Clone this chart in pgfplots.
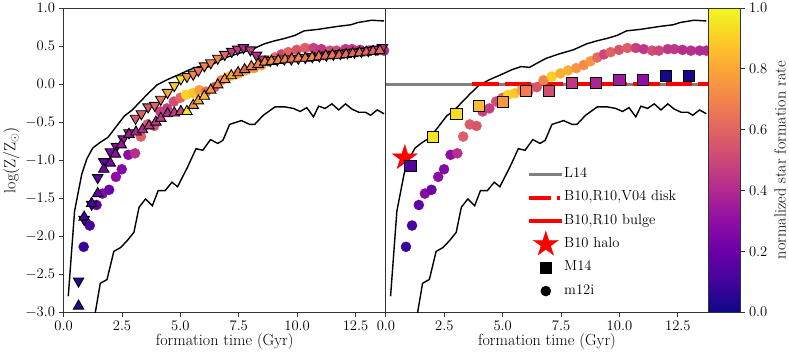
\RequirePackage{fix-cm}
\documentclass[border=0pt]{standalone}
\usepackage{fontspec}
\usepackage{pgfplots}
\usepackage{pgfplotstable}
\pgfplotsset{compat=1.18}

% matplotlib "plasma"
\pgfplotsset{
  colormap={plasma}{rgb255=(13,8,135) rgb255=(65,4,157) rgb255=(106,0,168)
    rgb255=(143,13,164) rgb255=(177,42,144) rgb255=(204,71,120) rgb255=(225,100,98)
    rgb255=(242,132,75) rgb255=(252,166,54) rgb255=(252,206,37) rgb255=(240,249,33)},
}

% filled five-pointed star
\pgfdeclareplotmark{fstar}{%
  \pgfpathmoveto{\pgfpointpolar{90}{\pgfplotmarksize}}%
  \pgfpathlineto{\pgfpointpolar{126}{0.382\pgfplotmarksize}}%
  \pgfpathlineto{\pgfpointpolar{162}{\pgfplotmarksize}}%
  \pgfpathlineto{\pgfpointpolar{198}{0.382\pgfplotmarksize}}%
  \pgfpathlineto{\pgfpointpolar{234}{\pgfplotmarksize}}%
  \pgfpathlineto{\pgfpointpolar{270}{0.382\pgfplotmarksize}}%
  \pgfpathlineto{\pgfpointpolar{306}{\pgfplotmarksize}}%
  \pgfpathlineto{\pgfpointpolar{342}{0.382\pgfplotmarksize}}%
  \pgfpathlineto{\pgfpointpolar{18}{\pgfplotmarksize}}%
  \pgfpathlineto{\pgfpointpolar{54}{0.382\pgfplotmarksize}}%
  \pgfpathclose
  \pgfusepathqfillstroke
}

% envelope lines
\pgfplotstableread{
t z
0.20 -2.79
0.47 -1.67
0.78 -1.18
1.00 -0.98
1.25 -0.84
1.55 -0.77
1.90 -0.70
2.20 -0.58
2.60 -0.42
2.94 -0.34
3.25 -0.24
3.60 -0.13
4.00 -0.01
4.45 0.06
4.90 0.12
5.40 0.19
5.79 0.23
6.15 0.22
6.50 0.28
6.87 0.34
7.45 0.40
8.02 0.45
8.60 0.53
9.05 0.57
9.46 0.60
9.90 0.64
10.30 0.70
10.90 0.72
11.76 0.76
12.30 0.78
12.60 0.81
13.20 0.84
13.72 0.83
}\tabupper

\pgfplotstableread{
t z
1.28 -3.15
1.36 -3.00
1.57 -2.62
1.86 -2.57
2.15 -2.20
2.44 -2.15
2.72 -2.06
3.01 -1.95
3.23 -1.62
3.51 -1.51
3.80 -1.60
4.05 -1.40
4.35 -1.40
4.64 -1.29
4.88 -1.35
5.31 -1.09
5.67 -0.85
5.96 -0.87
6.29 -0.73
6.60 -0.78
6.82 -0.74
7.11 -0.53
7.61 -0.48
7.97 -0.53
8.18 -0.53
8.55 -0.41
9.05 -0.30
9.48 -0.30
9.84 -0.32
10.13 -0.36
10.41 -0.31
10.70 -0.43
10.92 -0.29
11.20 -0.32
11.49 -0.26
11.78 -0.34
12.07 -0.26
12.35 -0.33
12.64 -0.37
12.93 -0.37
13.14 -0.41
13.43 -0.34
13.72 -0.39
}\tablower

% m12i
\pgfplotstableread{
t z c
0.86 -2.14 0.08
1.12 -1.86 0.12
1.41 -1.59 0.18
1.67 -1.44 0.28
1.95 -1.39 0.20
2.24 -1.22 0.30
2.49 -1.12 0.27
2.77 -0.93 0.30
3.06 -0.91 0.42
3.31 -0.69 0.58
3.59 -0.53 0.57
3.88 -0.55 0.55
4.14 -0.36 0.48
4.43 -0.32 0.47
4.72 -0.23 0.52
5.00 -0.18 0.60
5.24 -0.14 0.92
5.53 -0.12 0.88
5.81 -0.08 0.78
6.10 -0.10 0.62
6.46 -0.04 0.55
6.75 0.05 0.70
7.10 0.10 0.90
7.47 0.14 0.82
7.80 0.18 0.82
8.15 0.21 0.75
8.47 0.25 0.72
8.76 0.30 0.75
9.05 0.35 0.62
9.33 0.39 0.50
9.62 0.42 0.60
9.98 0.45 0.55
10.34 0.475 0.58
10.70 0.475 0.48
11.04 0.46 0.45
11.40 0.44 0.52
11.69 0.44 0.50
12.07 0.46 0.45
12.35 0.46 0.45
12.70 0.45 0.42
13.06 0.44 0.42
13.43 0.44 0.40
13.72 0.44 0.40
}\tabmtwelve

% downward triangles
\pgfplotstableread{
t z c
0.64 -2.59 0.05
0.88 -1.78 0.12
1.20 -1.58 0.15
1.46 -1.23 0.18
1.72 -1.02 0.20
2.00 -0.89 0.25
2.26 -0.82 0.30
2.55 -0.72 0.35
2.80 -0.64 0.40
3.08 -0.45 0.55
3.33 -0.39 0.58
3.62 -0.30 0.55
3.90 -0.28 0.60
4.16 -0.20 0.65
4.45 -0.11 0.80
4.74 -0.02 0.90
5.02 0.07 0.95
5.28 0.10 0.75
5.55 0.13 0.70
5.77 0.18 0.65
6.03 0.24 0.70
6.30 0.28 0.68
6.60 0.34 0.70
6.90 0.39 0.60
7.20 0.43 0.45
7.45 0.46 0.45
7.70 0.48 0.40
8.00 0.45 0.45
8.26 0.38 0.40
8.55 0.33 0.45
8.85 0.31 0.50
9.15 0.32 0.55
9.45 0.33 0.60
9.75 0.33 0.55
10.05 0.34 0.50
10.35 0.35 0.50
10.65 0.36 0.45
10.95 0.37 0.55
11.25 0.38 0.50
11.55 0.39 0.45
11.85 0.40 0.50
12.15 0.41 0.45
12.45 0.42 0.45
12.75 0.43 0.42
13.05 0.44 0.42
13.35 0.46 0.40
13.65 0.48 0.42
}\tabdown

% upward triangles
\pgfplotstableread{
t z c
0.64 -2.92 0.05
0.88 -1.75 0.10
1.20 -1.57 0.12
1.46 -1.44 0.20
1.72 -1.12 0.22
2.00 -1.04 0.25
2.22 -0.92 0.30
2.47 -0.80 0.33
2.80 -0.66 0.35
3.10 -0.63 0.38
3.38 -0.60 0.40
3.66 -0.55 0.45
3.95 -0.50 0.45
4.16 -0.45 0.45
4.45 -0.39 0.40
4.74 -0.38 0.45
5.02 -0.36 0.50
5.28 -0.36 0.95
5.55 -0.28 0.75
5.77 -0.22 0.80
6.03 -0.16 0.85
6.30 -0.08 0.75
6.60 -0.01 0.70
6.90 0.06 0.75
7.18 0.11 0.80
7.47 0.15 0.65
7.75 0.19 0.60
8.04 0.23 0.70
8.33 0.26 0.70
8.62 0.29 0.70
8.90 0.30 0.72
9.19 0.31 0.70
9.48 0.32 0.70
9.77 0.33 0.65
10.06 0.34 0.70
10.35 0.34 0.65
10.64 0.35 0.70
10.93 0.36 0.65
11.22 0.37 0.62
11.51 0.38 0.65
11.80 0.38 0.60
12.09 0.39 0.62
12.38 0.40 0.60
12.67 0.41 0.62
12.96 0.42 0.60
13.25 0.43 0.60
13.54 0.44 0.60
}\tabup

% M14
\pgfplotstableread{
t z c
1.05 -1.08 0.15
2.01 -0.69 0.95
3.02 -0.39 0.93
3.99 -0.29 0.85
5.00 -0.24 0.75
6.00 -0.09 0.68
7.00 -0.09 0.52
7.98 0.01 0.45
9.00 0.01 0.38
10.00 0.06 0.35
11.00 0.06 0.30
12.00 0.11 0.02
12.98 0.11 0.02
13.98 0.11 0.05
}\tabmfourteen

\newcommand\tickfont{\fontsize{14.5}{17}\selectfont}
\newcommand\labfont{\fontsize{16}{19}\selectfont}

\pgfplotsset{
  panel/.style={
    scale only axis, width=320pt, height=302pt,
    xmin=0, xmax=13.8, ymin=-3, ymax=1,
    xtick={0,2.5,5,7.5,10,12.5},
    xticklabel style={/pgf/number format/.cd, fixed, fixed zerofill, precision=1},
    yticklabel style={/pgf/number format/.cd, fixed, fixed zerofill, precision=1},
    tick label style={font=\tickfont},
    tick align=outside, xtick pos=bottom, ytick pos=left,
    major tick length=5pt,
    every tick/.style={black!80, line width=0.8pt},
    axis line style={black!80, line width=0.8pt},
    xlabel={\labfont formation time (Gyr)},
    xlabel style={yshift=4pt},
    point meta min=0, point meta max=1,
    colormap name=plasma,
  },
  cscat/.style={scatter, only marks, scatter src=explicit,
    scatter/use mapped color={draw=mapped color, fill=mapped color},
    mark=*, mark size=5pt, forget plot},
  ecat/.style={scatter, only marks, scatter src=explicit,
    scatter/use mapped color={draw=black, fill=mapped color}, forget plot},
  env/.style={black, line width=1.4pt, forget plot},
}

\begin{document}
\begin{tikzpicture}
\begin{axis}[panel,
  ytick={-3,-2.5,-2,-1.5,-1,-0.5,0,0.5,1},
  ylabel={\labfont $\log(\mathrm{Z}/\mathrm{Z}_\odot)$},
  ylabel style={yshift=-1pt},
]
  \addplot[env] table[x=t, y=z] {\tabupper};
  \addplot[env] table[x=t, y=z] {\tablower};
  \addplot[cscat] table[x=t, y=z, meta=c] {\tabmtwelve};
  \addplot[ecat, mark=triangle*, mark size=6pt, mark options={rotate=180, line width=0.9pt}]
    table[x=t, y=z, meta=c] {\tabdown};
  \addplot[ecat, mark=triangle*, mark size=6pt, mark options={line width=0.9pt}]
    table[x=t, y=z, meta=c] {\tabup};
\end{axis}

\begin{axis}[panel, at={(320pt,0pt)}, anchor=south west,
  ytick=\empty,
  colorbar,
  colorbar shift/.style={xshift=0pt},
  colorbar/width=32pt,
  colorbar style={
    at={(parent axis.north east)}, anchor=north west,
    ytick={0,0.2,0.4,0.6,0.8,1},
    yticklabel style={/pgf/number format/.cd, fixed, fixed zerofill, precision=1},
    tick label style={font=\tickfont},
    tick align=outside, ytick pos=right, yticklabel pos=right,
    major tick length=5pt,
    every tick/.style={black!80, line width=0.8pt},
    axis line style={black!80, line width=0.8pt},
    ylabel={\labfont normalized star formation rate},
  },
  legend style={draw=none, fill=none, at={(0.434,0.025)}, anchor=south west,
    font=\tickfont, row sep=0.7pt,
    nodes={text height=10pt, text depth=3.5pt, inner sep=4.5pt}},
  legend cell align=left,
]
  \addplot[env] table[x=t, y=z] {\tabupper};
  \addplot[env] table[x=t, y=z] {\tablower};
  \addplot[cscat] table[x=t, y=z, meta=c] {\tabmtwelve};
  \addplot[gray, line width=3pt, forget plot] coordinates {(0,0) (13.8,0)};
  \addplot[red, line width=4pt, dash pattern=on 26pt off 6pt, forget plot]
    coordinates {(3.7,0) (13.8,0)};
  \addplot[only marks, mark=fstar, mark size=13pt, red, fill=red, forget plot]
    coordinates {(0.81,-0.97)};
  \addplot[ecat, mark=square*, mark size=5.5pt, mark options={line width=0.9pt}]
    table[x=t, y=z, meta=c] {\tabmfourteen};

  \addlegendimage{legend image code/.code={\draw[overlay, gray, line width=3pt] (0pt,0pt) -- (33pt,0pt); \path (0pt,0pt) (30pt,0pt);}}
  \addlegendentry{L14}
  \addlegendimage{legend image code/.code={\draw[overlay, red, line width=4pt] (0pt,0pt) -- (22pt,0pt) (28pt,0pt) -- (31pt,0pt); \path (0pt,0pt) (30pt,0pt);}}
  \addlegendentry{B10,R10,V04 disk}
  \addlegendimage{legend image code/.code={\draw[overlay, red, line width=4pt] (0pt,0pt) -- (33pt,0pt); \path (0pt,0pt) (30pt,0pt);}}
  \addlegendentry{B10,R10 bulge}
  \addlegendimage{legend image code/.code={\draw[overlay, red, fill=red, mark size=13pt] plot[only marks, mark=fstar] coordinates {(16.5pt,0pt)}; \path (0pt,0pt) (30pt,0pt);}}
  \addlegendentry{B10 halo}
  \addlegendimage{legend image code/.code={\draw[overlay, black, fill=black, mark size=5.5pt] plot[only marks, mark=square*] coordinates {(16.5pt,0pt)}; \path (0pt,0pt) (30pt,0pt);}}
  \addlegendentry{M14}
  \addlegendimage{legend image code/.code={\draw[overlay, black, fill=black, mark size=5pt] plot[only marks, mark=*] coordinates {(16.5pt,0pt)}; \path (0pt,0pt) (30pt,0pt);}}
  \addlegendentry{m12i}
\end{axis}
\end{tikzpicture}
\end{document}
